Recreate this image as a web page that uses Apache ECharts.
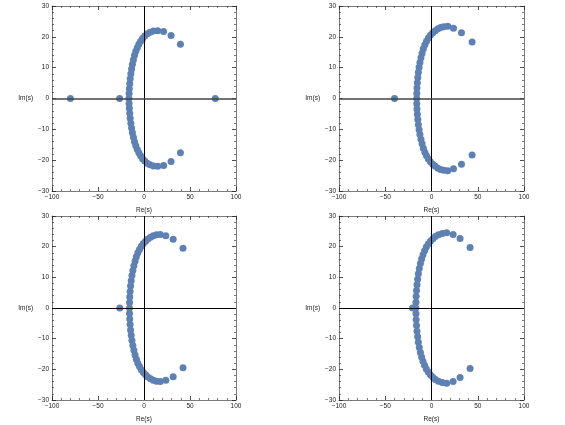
<!DOCTYPE html>
<html><head><meta charset="utf-8">
<script src="https://cdn.jsdelivr.net/npm/echarts@6/dist/echarts.min.js"></script>
<style>html,body{margin:0;padding:0;background:#fff}#c{width:565px;height:425px}</style>
</head><body><div id="c"></div>
<script>
const xTicks = [-100, -50, 0, 50, 100];
const yTicks = [-30, -20, -10, 0, 10, 20, 30];
const xName = 'Re(s)';
const yName = 'Im(s)';

const p1Re = [-80, -26.5, -16.4, 77.5,
  -16.2,-15.9,-15.5,-15.0,-14.3,-13.5,-12.6,-11.5,-10.3,-8.9,-7.3,-5.6,-3.7,-1.6,0.8,3.5,6.6,10.3,14.9,21.3,29.4,39.6,
  -16.2,-15.9,-15.5,-15.0,-14.3,-13.5,-12.6,-11.5,-10.3,-8.9,-7.3,-5.6,-3.7,-1.6,0.8,3.5,6.6,10.3,14.9,21.3,29.4,39.6];
const p1Im = [0, 0, 0, 0,
  1.6,3.2,4.8,6.4,8.0,9.6,11.1,12.6,14.0,15.3,16.5,17.6,18.6,19.5,20.3,21.0,21.5,21.9,22.0,21.7,20.4,17.6,
  -1.6,-3.2,-4.8,-6.4,-8.0,-9.6,-11.1,-12.6,-14.0,-15.3,-16.5,-17.6,-18.6,-19.5,-20.3,-21.0,-21.5,-21.9,-22.0,-21.7,-20.4,-17.6];

const p2Re = [-40, -16.0,
  -15.9,-15.7,-15.3,-14.8,-14.2,-13.4,-12.5,-11.4,-10.2,-8.8,-7.2,-5.4,-3.4,-1.2,1.3,4.1,7.0,9.9,13.2,17.5,23.8,32.4,43.9,
  -15.9,-15.7,-15.3,-14.8,-14.2,-13.4,-12.5,-11.4,-10.2,-8.8,-7.2,-5.4,-3.4,-1.2,1.3,4.1,7.0,9.9,13.2,17.5,23.8,32.4,43.9];
const p2Im = [0, 0,
  1.7,3.4,5.1,6.8,8.5,10.1,11.7,13.2,14.7,16.1,17.4,18.6,19.6,20.5,21.3,22.0,22.6,23.0,23.3,23.4,22.8,21.3,18.3,
  -1.7,-3.4,-5.1,-6.8,-8.5,-10.1,-11.7,-13.2,-14.7,-16.1,-17.4,-18.6,-19.6,-20.5,-21.3,-22.0,-22.6,-23.0,-23.3,-23.4,-22.8,-21.3,-18.3];

const p3Re = [-26.3, -15.8,
  -15.7,-15.5,-15.1,-14.6,-13.9,-13.1,-12.1,-11.0,-9.7,-8.3,-6.7,-4.9,-2.9,-0.7,1.7,4.3,7.1,10.1,13.5,17.7,23.7,31.7,42.4,
  -15.7,-15.5,-15.1,-14.6,-13.9,-13.1,-12.1,-11.0,-9.7,-8.3,-6.7,-4.9,-2.9,-0.7,1.7,4.3,7.1,10.1,13.5,17.7,23.7,31.7,42.4];
const p3Im = [0, 0,
  1.8,3.6,5.4,7.2,8.9,10.6,12.2,13.8,15.3,16.7,18.0,19.1,20.1,21.0,21.8,22.5,23.1,23.6,23.9,24.0,23.6,22.4,19.5,
  -1.8,-3.6,-5.4,-7.2,-8.9,-10.6,-12.2,-13.8,-15.3,-16.7,-18.0,-19.1,-20.1,-21.0,-21.8,-22.5,-23.1,-23.6,-23.9,-24.0,-23.6,-22.4,-19.5];

const p4Re = [-20.5, -16.9,
  -16.8,-16.6,-16.2,-15.7,-15.0,-14.2,-13.2,-12.0,-10.7,-9.2,-7.5,-5.6,-3.5,-1.2,1.4,4.2,7.5,11.6,16.4,23.4,30.9,41.7,
  -16.8,-16.6,-16.2,-15.7,-15.0,-14.2,-13.2,-12.0,-10.7,-9.2,-7.5,-5.6,-3.5,-1.2,1.4,4.2,7.5,11.6,16.4,23.4,30.9,41.7];
const p4Im = [0, 0,
  1.9,3.8,5.7,7.6,9.4,11.2,12.9,14.5,16.0,17.4,18.7,19.9,20.9,21.8,22.6,23.3,23.9,24.3,24.5,24.0,22.7,19.7,
  -1.9,-3.8,-5.7,-7.6,-9.4,-11.2,-12.9,-14.5,-16.0,-17.4,-18.7,-19.9,-20.9,-21.8,-22.6,-23.3,-23.9,-24.3,-24.5,-24.0,-22.7,-19.7];

const panels = [[p1Re, p1Im], [p2Re, p2Im], [p3Re, p3Im], [p4Re, p4Im]];
const grids = [
  {left: 52, top: 6, width: 184, height: 185},
  {left: 339, top: 6, width: 185, height: 185},
  {left: 52, top: 216, width: 184, height: 184},
  {left: 339, top: 216, width: 185, height: 184}
];

const font = 'Liberation Sans, Arial, sans-serif';
const frameColor = '#7a7a7a';
const fmt = v => String(v).replace('-', '\u2212');
const xAxes = [], yAxes = [], series = [];
grids.forEach((g, i) => {
  const base = {
    gridIndex: i, axisLine: {show: true, onZero: false, lineStyle: {color: frameColor, width: 1}},
    axisTick: {show: true, inside: true, length: 4, lineStyle: {color: '#222', width: 0.8}},
    minorTick: {show: true, splitNumber: 5, length: 2, lineStyle: {color: '#222', width: 0.6}},
    splitLine: {show: false}, minorSplitLine: {show: false}
  };
  xAxes.push(Object.assign({}, base, {type: 'value', position: 'bottom', min: xTicks[0], max: xTicks[xTicks.length-1], interval: 50,
    axisLabel: {fontSize: 6.5, color: '#222', fontFamily: font, margin: 3, formatter: fmt},
    name: xName, nameLocation: 'middle', nameGap: 16, nameTextStyle: {fontSize: 6.5, color: '#222', fontFamily: font}}));
  xAxes.push(Object.assign({}, base, {type: 'value', position: 'top', min: xTicks[0], max: xTicks[xTicks.length-1], interval: 50,
    axisLabel: {show: false}}));
  yAxes.push(Object.assign({}, base, {type: 'value', position: 'left', min: yTicks[0], max: yTicks[yTicks.length-1], interval: 10,
    axisLabel: {fontSize: 6.5, color: '#222', fontFamily: font, margin: 3, formatter: fmt},
    name: yName, nameLocation: 'middle', nameRotate: 0, nameGap: 18, nameTextStyle: {fontSize: 6.5, color: '#222', fontFamily: font}}));
  yAxes.push(Object.assign({}, base, {type: 'value', position: 'right', min: yTicks[0], max: yTicks[yTicks.length-1], interval: 10,
    axisLabel: {show: false}}));
  const [re, im] = panels[i];
  const top = i < 2;
  series.push({
    type: 'scatter', xAxisIndex: 2*i, yAxisIndex: 2*i, symbolSize: 7,
    itemStyle: {color: '#5E81B5', opacity: 1},
    data: re.map((x, k) => [x, im[k]]),
    markLine: {
      silent: true, symbol: 'none', label: {show: false}, animation: false,
      data: [
        {xAxis: 0, lineStyle: {color: '#000', width: 1, type: 'solid'}},
        {yAxis: 0, lineStyle: {color: top ? '#444' : '#000', width: top ? 1.6 : 1, type: 'solid'}}
      ]
    },
    z: 3
  });
});

const chart = echarts.init(document.getElementById('c'), null, {renderer: 'canvas'});
chart.setOption({
  animation: false, backgroundColor: '#fff',
  grid: grids, xAxis: xAxes, yAxis: yAxes, series: series
});
</script></body></html>
